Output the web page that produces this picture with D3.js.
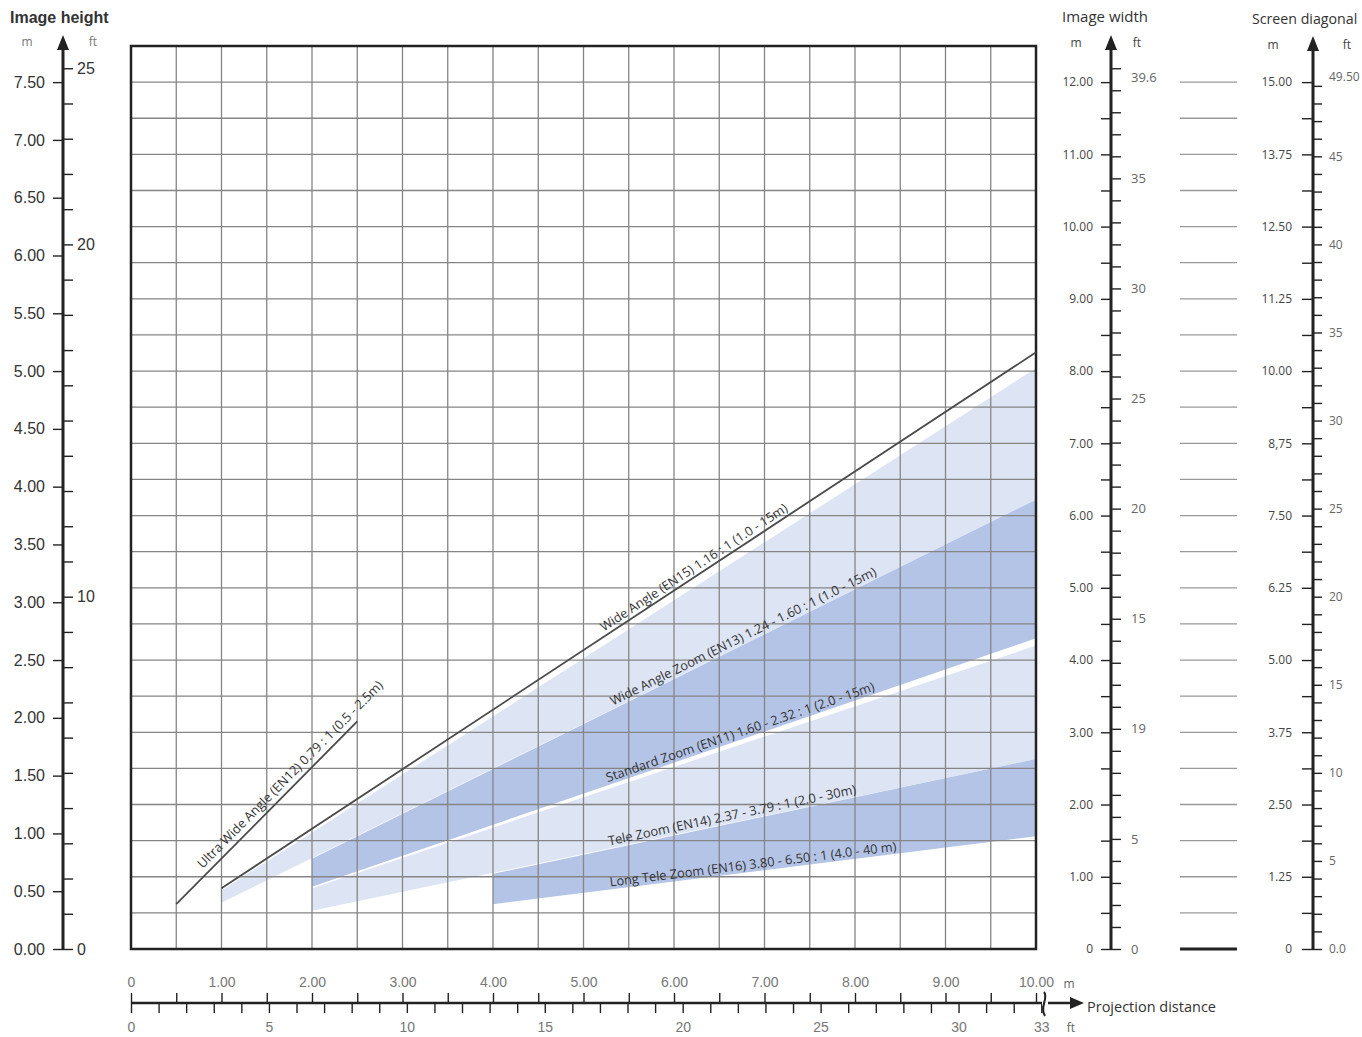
<!DOCTYPE html>
<html lang="en">
<head>
<meta charset="UTF-8">
<title>Projection distance chart</title>
<script src="https://d3js.org/d3.v7.min.js"></script>
<style>
  body { margin: 0; background: #fff; }
  svg { display: block; }
</style>
</head>
<body>
<div id="chart"></div>
<script>
// distances in m (x), image width in m (grid rows)
const lineNames = [
  "Ultra Wide Angle (EN12) 0.79 : 1 (0.5 - 2.5m)",
  "Wide Angle (EN15) 1.16 : 1  (1.0 - 15m)"
];
const lineDist = [[0.5, 2.5], [1.0, 10.0]];
const lineWidth = [[0.62, 3.15], [0.84, 8.26]];

const bandNames = [
  "Wide Angle Zoom (EN13) 1.24 - 1.60 : 1 (1.0 - 15m)",
  "Standard Zoom (EN11) 1.60 - 2.32 : 1 (2.0 - 15m)",
  "Tele Zoom (EN14) 2.37 - 3.79 : 1 (2.0 - 30m)",
  "Long Tele Zoom (EN16) 3.80 - 6.50 : 1 (4.0 - 40 m)"
];
const bandDist = [[1.0, 10.0], [2.0, 10.0], [2.0, 10.0], [4.0, 10.0]];
const bandUpper = [[0.81, 8.04], [1.25, 6.22], [0.84, 4.20], [1.04, 2.63]];
const bandLower = [[0.64, 6.22], [0.86, 4.30], [0.53, 2.63], [0.62, 1.56]];

// tick labels
const heightM = [0, 0.5, 1, 1.5, 2, 2.5, 3, 3.5, 4, 4.5, 5, 5.5, 6, 6.5, 7, 7.5];
const heightFt = [0, 10, 20, 25];
const widthM = [0, 1, 2, 3, 4, 5, 6, 7, 8, 9, 10, 11, 12];
const widthMLabels = ["0", "1.00", "2.00", "3.00", "4.00", "5.00", "6.00", "7.00", "8.00", "9.00", "10.00", "11.00", "12.00"];
const widthFt = [0, 5, 10, 15, 20, 25, 30, 35, 39.6];
const widthFtLabels = ["0", "5", "19", "15", "20", "25", "30", "35", "39.6"];
const diagM = [0, 1.25, 2.5, 3.75, 5, 6.25, 7.5, 8.75, 10, 11.25, 12.5, 13.75, 15];
const diagMLabels = ["0", "1.25", "2.50", "3.75", "5.00", "6.25", "7.50", "8,75", "10.00", "11.25", "12.50", "13.75", "15.00"];
const diagFt = [0, 5, 10, 15, 20, 25, 30, 35, 40, 45, 49.5];
const diagFtLabels = ["0.0", "5", "10", "15", "20", "25", "30", "35", "40", "45", "49.50"];
const distM = [0, 1, 2, 3, 4, 5, 6, 7, 8, 9, 10];
const distMLabels = ["0", "1.00", "2.00", "3.00", "4.00", "5.00", "6.00", "7.00", "8.00", "9.00", "10.00"];
const distFt = [0, 5, 10, 15, 20, 25, 30, 33];

const FT = 0.3048;
const W = 1362, H = 1037;
const pLeft = 131, pRight = 1036, pTop = 46, pBottom = 949;
const wMax = 12.5;           // grid rows: 25 x 0.5 m image width
const hFactor = 0.625;       // 16:10 image height
const dFactor = 1.25;        // screen diagonal scale used on the chart

const svg = d3.select("#chart").append("svg")
  .attr("width", W).attr("height", H)
  .style("background", "#fff");

const x = d3.scaleLinear().domain([0, 10]).range([pLeft, pRight]);
const xFt = d3.scaleLinear().domain([0, 10 / FT]).range([pLeft, pRight]);
const yW = d3.scaleLinear().domain([0, wMax]).range([pBottom, pTop]);
const yWft = d3.scaleLinear().domain([0, wMax / FT]).range([pBottom, pTop]);
const yH = d3.scaleLinear().domain([0, wMax * hFactor]).range([pBottom, pTop]);
const yHft = d3.scaleLinear().domain([0, wMax * hFactor / FT]).range([pBottom, pTop]);
const yD = d3.scaleLinear().domain([0, wMax * dFactor]).range([pBottom, pTop]);
const yDft = d3.scaleLinear().domain([0, wMax * dFactor / FT]).range([pBottom, pTop]);

const light = "#dde4f3", dark = "#b4c4e7";

// bands
const area = d3.area()
  .x(d => x(d.d))
  .y0(d => yW(d.lo))
  .y1(d => yW(d.hi));

bandNames.forEach((name, i) => {
  const pts = bandDist[i].map((d, j) => ({ d: d, lo: bandLower[i][j], hi: bandUpper[i][j] }));
  svg.append("path")
    .attr("d", area(pts))
    .attr("fill", i % 2 ? dark : light);
});

// grid
const grid = svg.append("g").attr("stroke", "#858585").attr("stroke-width", 1.3);
grid.selectAll("line.v")
  .data(d3.range(0.5, 10, 0.5))
  .join("line")
  .attr("class", "v")
  .attr("x1", d => x(d)).attr("x2", d => x(d))
  .attr("y1", pTop).attr("y2", pBottom);
grid.selectAll("line.h")
  .data(d3.range(0.5, wMax, 0.5))
  .join("line")
  .attr("class", "h")
  .attr("x1", pLeft).attr("x2", pRight)
  .attr("y1", d => yW(d)).attr("y2", d => yW(d));

svg.append("rect")
  .attr("x", pLeft).attr("y", pTop)
  .attr("width", pRight - pLeft).attr("height", pBottom - pTop)
  .attr("fill", "none").attr("stroke", "#222").attr("stroke-width", 2.5);

// lines
const line = d3.line().x(d => x(d[0])).y(d => yW(d[1]));
lineNames.forEach((name, i) => {
  const pts = lineDist[i].map((d, j) => [d, lineWidth[i][j]]);
  svg.append("path")
    .attr("d", line(pts))
    .attr("fill", "none")
    .attr("stroke", "#4a4a4a")
    .attr("stroke-width", 1.8);
});

// labels along the edges
function edgeLabel(text, d0, d1, w0, w1, at, offset) {
  const x0 = x(d0), y0 = yW(w0), x1 = x(d1), y1 = yW(w1);
  const t = (at - d0) / (d1 - d0);
  const px = x0 + (x1 - x0) * t, py = y0 + (y1 - y0) * t;
  const ang = Math.atan2(y1 - y0, x1 - x0) * 180 / Math.PI;
  svg.append("text")
    .attr("transform", `translate(${px},${py}) rotate(${ang})`)
    .attr("y", -offset)
    .attr("font-family", "'Open Sans', sans-serif")
    .attr("font-size", 12.8)
    .attr("fill", "#333")
    .text(text);
}
const lineLabelAt = [0.84, 5.25];
lineNames.forEach((name, i) => {
  edgeLabel(name, lineDist[i][0], lineDist[i][1], lineWidth[i][0], lineWidth[i][1], lineLabelAt[i], i ? 4 : 6);
});
const bandLabelAt = [5.34, 5.28, 5.29, 5.3];
bandNames.forEach((name, i) => {
  edgeLabel(name, bandDist[i][0], bandDist[i][1], bandLower[i][0], bandLower[i][1], bandLabelAt[i], 3);
});

// helpers for the vertical scales
function arrowUp(g, cx, tip) {
  g.append("line").attr("x1", cx).attr("x2", cx).attr("y1", pBottom + 1).attr("y2", tip + 10)
    .attr("stroke", "#222").attr("stroke-width", 3);
  g.append("path").attr("d", `M${cx},${tip}L${cx - 6},${tip + 15}L${cx + 6},${tip + 15}Z`).attr("fill", "#222");
}
function styleAxis(g, family, size, color) {
  g.select(".domain").remove();
  g.selectAll(".tick line").attr("stroke", "#222").attr("stroke-width", 1.4);
  g.selectAll(".tick text").attr("font-family", family).attr("font-size", size).attr("fill", color);
}
function label(txt, lx, ly, opts) {
  const o = Object.assign({ family: "'Open Sans', sans-serif", size: 12, color: "#444", anchor: "start", weight: "normal" }, opts);
  svg.append("text").attr("x", lx).attr("y", ly)
    .attr("font-family", o.family).attr("font-size", o.size).attr("fill", o.color)
    .attr("text-anchor", o.anchor).attr("font-weight", o.weight).text(txt);
}

// image height axis (left)
const hx = 63;
const gH = svg.append("g").attr("transform", `translate(${hx},0)`);
gH.append("g").call(d3.axisLeft(yH).tickValues(heightM).tickFormat(d3.format(".2f")).tickSize(10).tickPadding(8).tickSizeOuter(0))
  .call(g => styleAxis(g, "'Liberation Sans', Arial, sans-serif", 16, "#333"));
gH.append("g").call(d3.axisRight(yHft).tickValues(d3.range(0, 26)).tickFormat(d => heightFt.includes(d) ? d : "").tickSize(10).tickPadding(4).tickSizeOuter(0))
  .call(g => styleAxis(g, "'Liberation Sans', Arial, sans-serif", 16, "#333"));
arrowUp(gH, 0, 35);
label("Image height", 10, 23, { family: "'Liberation Sans', Arial, sans-serif", size: 16, weight: "bold", color: "#333" });
label("m", 27, 46, { size: 12, color: "#777", anchor: "middle" });
label("ft", 93, 46, { size: 12, color: "#777", anchor: "middle" });

// image width axis
const wx = 1111;
const gW = svg.append("g").attr("transform", `translate(${wx},0)`);
gW.append("g").call(d3.axisLeft(yW).tickValues(d3.range(0, 12.01, 0.5)).tickFormat(d => { const k = widthM.indexOf(d); return k < 0 ? "" : widthMLabels[k]; }).tickSize(10).tickPadding(8).tickSizeOuter(0))
  .call(g => styleAxis(g, "'Open Sans', sans-serif", 12, "#444"));
gW.append("g").call(d3.axisRight(yWft).tickValues(d3.range(0, 41)).tickFormat("").tickSize(10).tickSizeOuter(0))
  .call(g => styleAxis(g, "'Open Sans', sans-serif", 12, "#555"));
gW.append("g").call(d3.axisRight(yWft).tickValues(widthFt).tickFormat((d, i) => widthFtLabels[i]).tickSize(0).tickPadding(20).tickSizeOuter(0))
  .call(g => styleAxis(g, "'Open Sans', sans-serif", 13, "#666"));
arrowUp(gW, 0, 35);
label("Image width", 1062, 22, { size: 15, color: "#333" });
label("m", 1076, 47, { size: 12, color: "#444", anchor: "middle" });
label("ft", 1137, 47, { size: 12, color: "#444", anchor: "middle" });

// connector segments between width and diagonal scales
svg.append("g").selectAll("line")
  .data(d3.range(0, 12.01, 0.5))
  .join("line")
  .attr("x1", 1180).attr("x2", 1237)
  .attr("y1", d => yW(d)).attr("y2", d => yW(d))
  .attr("stroke", d => d === 0 ? "#222" : "#999")
  .attr("stroke-width", d => d === 0 ? 3 : 1.3);

// screen diagonal axis
const dx = 1313;
const gD = svg.append("g").attr("transform", `translate(${dx},0)`);
gD.append("g").call(d3.axisLeft(yD).tickValues(diagM).tickFormat((d, i) => diagMLabels[i]).tickSize(11).tickPadding(10).tickSizeOuter(0))
  .call(g => styleAxis(g, "'Open Sans', sans-serif", 12, "#444"));
gD.append("g").call(d3.axisLeft(yD).tickValues(d3.range(0.625, 15, 1.25)).tickFormat("").tickSize(11).tickSizeOuter(0))
  .call(g => styleAxis(g, "'Open Sans', sans-serif", 12, "#444"));
gD.append("g").call(d3.axisRight(yDft).tickValues(d3.range(0, 50)).tickFormat("").tickSize(9).tickSizeOuter(0))
  .call(g => styleAxis(g, "'Open Sans', sans-serif", 12, "#555"));
gD.append("g").call(d3.axisRight(yDft).tickValues(diagFt).tickFormat((d, i) => diagFtLabels[i]).tickSize(0).tickPadding(16).tickSizeOuter(0))
  .call(g => styleAxis(g, "'Open Sans', sans-serif", 12, "#666"));
arrowUp(gD, 0, 36);
label("Screen diagonal", 1252, 24, { size: 14.2, color: "#333" });
label("m", 1273, 49, { size: 12, color: "#444", anchor: "middle" });
label("ft", 1347, 49, { size: 12, color: "#444", anchor: "middle" });

// projection distance axis (bottom)
const by = 1003;
const gB = svg.append("g").attr("transform", `translate(0,${by})`);
gB.append("g").call(d3.axisTop(x).tickValues(d3.range(0, 10.01, 0.5)).tickFormat(d => { const k = distM.indexOf(d); return k < 0 ? "" : distMLabels[k]; }).tickSize(10).tickPadding(6).tickSizeOuter(0))
  .call(g => styleAxis(g, "'Liberation Sans', Arial, sans-serif", 14, "#777"));
gB.append("g").call(d3.axisBottom(xFt).tickValues(d3.range(0, 34)).tickFormat(d => distFt.includes(d) ? d : "").tickSize(10).tickPadding(9).tickSizeOuter(0))
  .call(g => styleAxis(g, "'Liberation Sans', Arial, sans-serif", 14, "#777"));
gB.append("line").attr("x1", pLeft).attr("x2", 1072).attr("y1", 0).attr("y2", 0)
  .attr("stroke", "#222").attr("stroke-width", 2.6);
gB.append("path").attr("d", "M1084,0L1070,-6L1070,6Z").attr("fill", "#222");
gB.append("rect").attr("x", 1042).attr("y", -3).attr("width", 6).attr("height", 6).attr("fill", "#fff");
gB.append("path").attr("d", "M1044,-11C1049,-5 1039,4 1045,13").attr("fill", "none").attr("stroke", "#222").attr("stroke-width", 2);
label("m", 1069, 988, { size: 12, color: "#666", anchor: "middle" });
label("ft", 1071, 1032, { size: 12, color: "#666", anchor: "middle" });
label("Projection distance", 1087, 1012, { size: 14.5, color: "#333" });
</script>
</body>
</html>
